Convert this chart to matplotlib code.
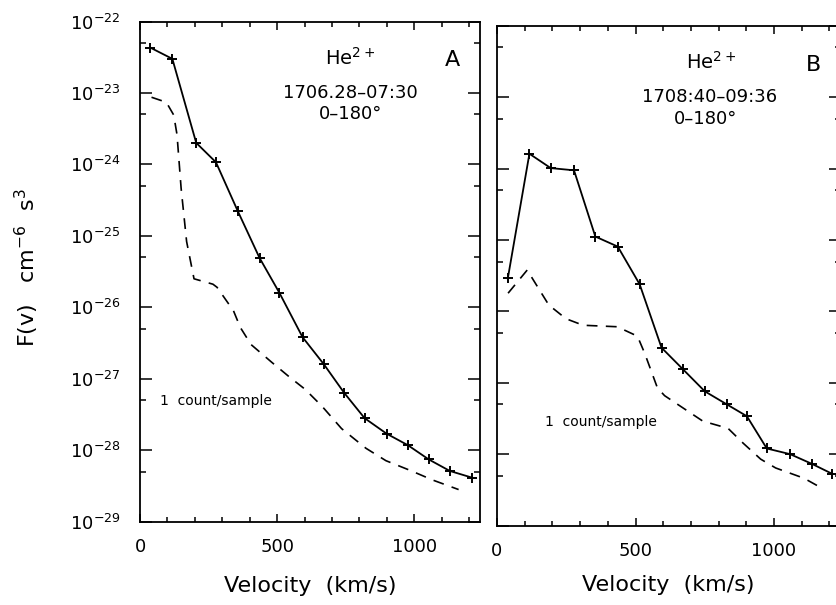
import numpy as np
import matplotlib
matplotlib.use('Agg')
from matplotlib import pyplot as plt
from matplotlib.ticker import FixedLocator, NullFormatter, LogFormatterSciNotation

# panel A, He2+ 1706:28-07:30
vel_a = [38, 118, 205, 277, 357, 436, 508, 593, 670, 745, 819, 899, 977, 1053, 1130, 1212]
f_a = [4.3e-23, 3.0e-23, 2.0e-24, 1.07e-24, 2.2e-25, 4.9e-26, 1.6e-26, 3.8e-27,
       1.6e-27, 6.3e-28, 2.8e-28, 1.7e-28, 1.17e-28, 7.4e-29, 5.1e-29, 4.1e-29]
vel_a_one = [42, 96, 123, 135, 150, 170, 197, 266, 281, 341, 366, 405, 480, 543,
             602, 664, 735, 824, 897, 985, 1068, 1162]
f_a_one = [8.7e-24, 7.4e-24, 4.9e-24, 2.6e-24, 4.6e-25, 8.3e-26, 2.5e-26, 2.1e-26,
           1.9e-26, 8.9e-27, 5.2e-27, 3.0e-27, 1.7e-27, 1.07e-27, 7.1e-28, 4.1e-28,
           2.0e-28, 1.06e-28, 7.1e-29, 5.2e-29, 3.8e-29, 2.8e-29]

# panel B, He2+ 1708:40-09:36
vel_b = [39, 117, 194, 278, 355, 436, 515, 594, 671, 750, 829, 902, 974, 1058, 1137, 1210]
f_b = [2.9e-26, 1.62e-24, 1.02e-24, 9.5e-25, 1.12e-25, 8.1e-26, 2.4e-26, 3.1e-27,
       1.55e-27, 7.6e-28, 5.0e-28, 3.4e-28, 1.2e-28, 1.0e-28, 7.3e-29, 5.3e-29]
vel_b_one = [40, 109, 187, 249, 311, 434, 507, 533, 579, 605, 743, 834, 889, 952,
             1006, 1108, 1163]
f_b_one = [1.8e-26, 3.8e-26, 1.23e-26, 7.9e-27, 6.4e-27, 6.1e-27, 4.5e-27, 2.6e-27,
           8.5e-28, 6.6e-28, 2.9e-28, 2.3e-28, 1.42e-28, 8.5e-29, 6.4e-29, 4.6e-29,
           3.5e-29]

panels = [
    ('A', '1706.28\u201307:30', vel_a, f_a, vel_a_one, f_a_one),
    ('B', '1708:40\u201309:36', vel_b, f_b, vel_b_one, f_b_one),
]

W, H = 836, 605
fig = plt.figure(figsize=(W / 100, H / 100), dpi=100)

# axes boxes in pixels: left, right, top, bottom
boxes = [(140, 480, 21.5, 521.5), (497, 840.5, 26, 525.5)]
label_pads = [14, 11]
text_pos = {
    'A': dict(he=(0.618, 0.927), letter=(0.918, 0.923), time=(0.62, 0.857),
              ang=(0.62, 0.815), one=(0.059, 0.241)),
    'B': dict(he=(0.623, 0.928), letter=(0.92, 0.922), time=(0.62, 0.858),
              ang=(0.606, 0.814), one=(0.14, 0.207)),
}

major_y = [10.0 ** k for k in range(-29, -21)]
minor_y = [5 * 10.0 ** k for k in range(-29, -22)]

for i, (name, times, v, f, v1, f1) in enumerate(panels):
    l, r, t, b = boxes[i]
    ax = fig.add_axes([l / W, 1 - b / H, (r - l) / W, (b - t) / H])
    ax.set_yscale('log')
    ax.set_ylim(1e-29, 1e-22)
    ax.set_xlim(0, 1240)

    ax.plot(v, f, color='black', lw=1.3, marker='+', ms=7, mew=1.4)
    ax.plot(v1, f1, color='black', lw=1.2, dashes=(6.5, 5))

    ax.yaxis.set_major_locator(FixedLocator(major_y))
    ax.yaxis.set_minor_locator(FixedLocator(minor_y))
    ax.yaxis.set_minor_formatter(NullFormatter())
    ax.set_xticks([0, 500, 1000])
    ax.set_xticks(np.arange(100, 1240, 100), minor=True)

    ax.tick_params(which='both', direction='in', top=True, right=True,
                   colors='black', labelsize=13, width=1.1)
    ax.tick_params(axis='y', which='major', length=8.5)
    ax.tick_params(axis='y', which='minor', length=4.3)
    ax.tick_params(axis='x', which='major', length=6)
    ax.tick_params(axis='x', which='minor', length=3.5)
    ax.tick_params(axis='x', pad=12)
    ax.tick_params(axis='y', pad=14)
    if i == 0:
        ax.yaxis.set_major_formatter(LogFormatterSciNotation())
    else:
        ax.set_yticklabels([])
    for s in ax.spines.values():
        s.set_linewidth(1.3)

    ax.set_xlabel('Velocity  (km/s)', fontsize=16, labelpad=label_pads[i])

    p = text_pos[name]
    ax.text(*p['he'], 'He$^{2+}$', transform=ax.transAxes, ha='center', va='center', fontsize=14)
    ax.text(*p['letter'], name, transform=ax.transAxes, ha='center', va='center', fontsize=16)
    ax.text(*p['time'], times, transform=ax.transAxes, ha='center', va='center', fontsize=13)
    ax.text(*p['ang'], '0\u2013180\u00b0', transform=ax.transAxes, ha='center', va='center', fontsize=13)
    ax.text(*p['one'], '1  count/sample', transform=ax.transAxes, ha='left', va='center',
            fontsize=10)

fig.text(27 / W, 1 - 268 / H, 'F(v)   cm$^{-6}$  s$^{3}$', rotation=90,
         ha='center', va='center', fontsize=16)

fig.savefig('out.png', dpi=100, facecolor='white')
